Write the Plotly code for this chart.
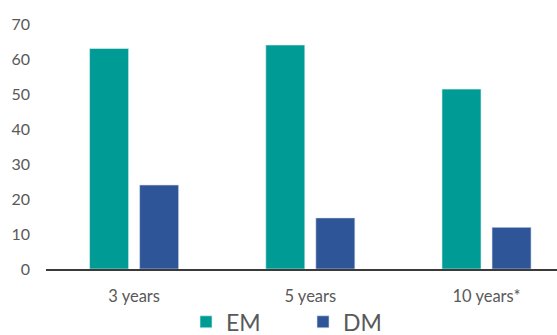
import plotly.graph_objects as go

categories = ["3 years", "5 years", "10 years*"]
em_values = [63, 64, 51.4]
dm_values = [24, 14.6, 11.9]
y_ticks = [0, 10, 20, 30, 40, 50, 60, 70]

fig = go.Figure()
fig.add_bar(name="EM", x=categories, y=em_values, marker=dict(color="#009B95", line=dict(color="#dff2f1", width=0.6)))
fig.add_bar(name="DM", x=categories, y=dm_values, marker=dict(color="#2E5597", line=dict(color="#dde3ee", width=0.6)))

fig.update_layout(
    width=557, height=335,
    margin=dict(l=46, r=0, t=24, b=66, autoexpand=False),
    paper_bgcolor="white", plot_bgcolor="white",
    barmode="group", bargap=0.432, bargroupgap=0.22,
    font=dict(family="Lato, Open Sans, sans-serif", color="#595959", size=16),
    showlegend=True,
    legend=dict(orientation="h", x=0.274, xanchor="left", y=-0.128, yanchor="top",
                font=dict(size=23, color="#595959"), itemwidth=30, tracegroupgap=0,
                entrywidth=72, entrywidthmode="pixels",
                borderwidth=0, bgcolor="rgba(0,0,0,0)"),
)
fig.update_xaxes(range=[-0.5, 2.4], showline=True, linecolor="#3a3a3a", linewidth=1.5,
                 showgrid=False, ticks="", ticklabelstandoff=11, tickfont=dict(size=16.5))
fig.update_yaxes(range=[0, 70], tickvals=y_ticks, showgrid=False, zeroline=False,
                 showline=False, ticks="", ticklabelstandoff=15, tickfont=dict(size=16))

fig.write_html("out.html")
